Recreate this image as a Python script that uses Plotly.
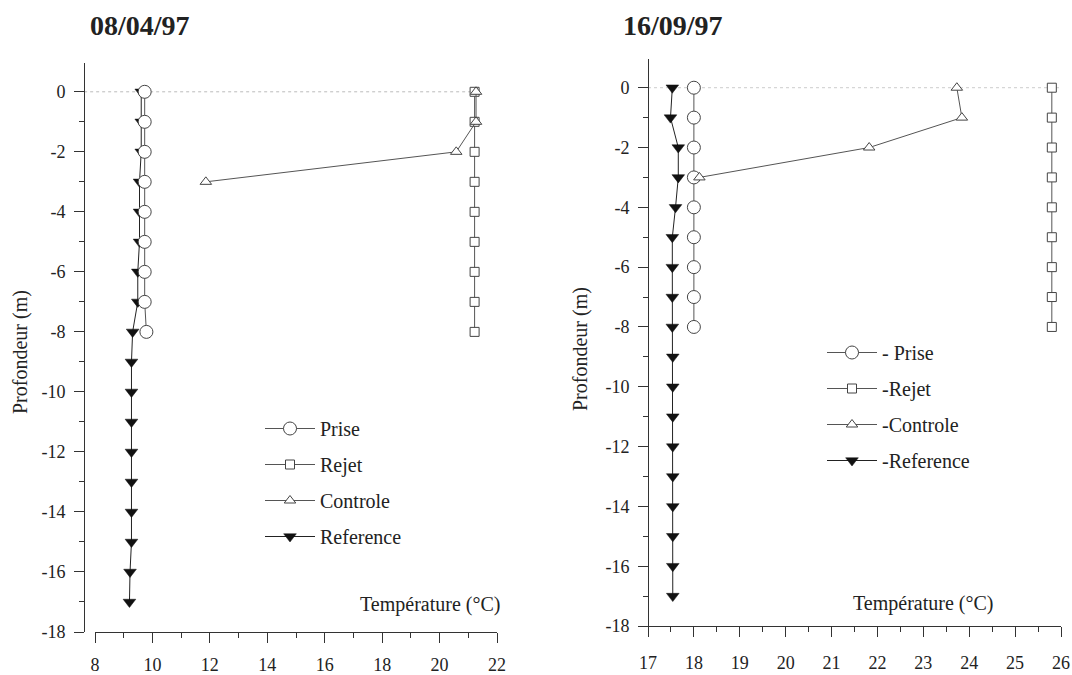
import plotly.graph_objects as go

# ---------------- data ----------------
depth_0_8 = [0, -1, -2, -3, -4, -5, -6, -7, -8]
depth_0_3 = [0, -1, -2, -3]
depth_0_17 = [0, -1, -2, -3, -4, -5, -6, -7, -8, -9, -10, -11, -12, -13, -14, -15, -16, -17]

# 08/04/97
apr_prise = [9.73, 9.73, 9.73, 9.73, 9.73, 9.73, 9.73, 9.73, 9.79]
apr_rejet = [21.22, 21.22, 21.22, 21.22, 21.22, 21.22, 21.22, 21.22, 21.22]
apr_controle = [21.27, 21.27, 20.58, 11.86]
apr_reference = [9.61, 9.61, 9.61, 9.55, 9.55, 9.55, 9.49, 9.49, 9.31,
                 9.27, 9.27, 9.27, 9.27, 9.27, 9.27, 9.27, 9.22, 9.20]

# 16/09/97
sep_prise = [18.0, 18.0, 18.0, 18.0, 18.0, 18.0, 18.0, 18.0, 18.0]
sep_rejet = [25.8, 25.8, 25.8, 25.8, 25.8, 25.8, 25.8, 25.8, 25.8]
sep_controle = [23.73, 23.84, 21.82, 18.12]
sep_reference = [17.53, 17.49, 17.66, 17.66, 17.6, 17.53, 17.53, 17.53, 17.53,
                 17.54, 17.54, 17.54, 17.54, 17.54, 17.54, 17.54, 17.54, 17.54]

names_left = ["Prise", "Rejet", "Controle", "Reference"]
names_right = ["- Prise", "-Rejet", "-Controle", "-Reference"]
titles = ["08/04/97", "16/09/97"]
x_title = "Température (°C)"
y_title = "Profondeur (m)"

y_tickvals = [0, -2, -4, -6, -8, -10, -12, -14, -16, -18]
y_ticktext = ["0", "-2", "-4", "-6", "-8", "-10", "-12", "-14", "-16", "-18"]
y_minor = [-1, -3, -5, -7, -9, -11, -13, -15, -17]

x1_tickvals = [8, 10, 12, 14, 16, 18, 20, 22]
x1_ticktext = ["8", "10", "12", "14", "16", "18", "20", "22"]
x1_minor = [9, 11, 13, 15, 17, 19, 21]

x2_tickvals = [17, 18, 19, 20, 21, 22, 23, 24, 25, 26]
x2_ticktext = ["17", "18", "19", "20", "21", "22", "23", "24", "25", "26"]
x2_minor = [17.5, 18.5, 19.5, 20.5, 21.5, 22.5, 23.5, 24.5, 25.5]

# ---------------- styling ----------------
W, H = 1072, 675
FONT = "Liberation Serif, Times New Roman, serif"
INK = "#222222"
AX = "#333333"
LINE = "#555555"
MK = "#444444"


def px_x(p):
    return p / W


def px_y(p):
    return 1 - p / H


fig = go.Figure()


def add_panel(xa, ya, legend, names, prise, rejet, controle, reference):
    specs = [
        (names[0], prise, depth_0_8, dict(symbol="circle", size=13, color="white",
                                          line=dict(color=MK, width=1)), LINE),
        (names[1], rejet, depth_0_8, dict(symbol="square", size=9, color="white",
                                          line=dict(color=MK, width=1)), LINE),
        (names[2], controle, depth_0_3, dict(symbol="triangle-up", size=10, color="white",
                                             line=dict(color=MK, width=1)), LINE),
        (names[3], reference, depth_0_17, dict(symbol="triangle-down", size=11, color="#111111",
                                               line=dict(color="#111111", width=0.5)), "#222222"),
    ]
    order = [3, 0, 1, 2]  # reference under the open symbols
    for i in order:
        name, xs, ys, mk, lc = specs[i]
        fig.add_trace(go.Scatter(
            x=xs, y=ys, name=name, mode="lines+markers",
            xaxis=xa, yaxis=ya, legend=legend, legendgroup=legend + str(i),
            legendrank=i + 1,
            line=dict(color=lc, width=1), marker=mk,
        ))


add_panel("x", "y", "legend", names_left, apr_prise, apr_rejet, apr_controle, apr_reference)
add_panel("x2", "y2", "legend2", names_right, sep_prise, sep_rejet, sep_controle, sep_reference)

tickfont = dict(family=FONT, size=18, color=INK)

common_x = dict(showline=True, linecolor=AX, linewidth=1, ticks="outside",
                ticklen=10, tickcolor=AX, tickwidth=1, showgrid=False,
                zeroline=False, tickfont=tickfont, tickmode="array",
                automargin=False, fixedrange=True)
common_y = dict(showline=True, linecolor=AX, linewidth=1, ticks="outside",
                ticklen=10, tickcolor=AX, tickwidth=1, showgrid=False,
                zeroline=False, tickfont=tickfont, tickmode="array",
                tickvals=y_tickvals, ticktext=y_ticktext, anchor="free",
                ticklabelstandoff=5, automargin=False, fixedrange=True,
                minor=dict(tickvals=y_minor, ticks="outside", ticklen=5,
                           tickcolor=AX, showgrid=False))

legend_common = dict(xanchor="left", yanchor="top", bgcolor="rgba(0,0,0,0)", borderwidth=0,
                     font=dict(family=FONT, size=20, color=INK),
                     tracegroupgap=7, itemwidth=50, traceorder="grouped")

fig.update_layout(
    width=W, height=H,
    margin=dict(l=0, r=0, t=0, b=0, pad=0),
    paper_bgcolor="white", plot_bgcolor="white",
    font=dict(family=FONT, color=INK),
    xaxis=dict(domain=[px_x(95), px_x(497)], range=[8, 22], anchor="y",
               tickvals=x1_tickvals, ticktext=x1_ticktext, ticklabelstandoff=6,
               minor=dict(tickvals=x1_minor, ticks="outside", ticklen=5,
                          tickcolor=AX, showgrid=False),
               **common_x),
    yaxis=dict(domain=[px_y(632), px_y(63)], range=[-18, 0.96],
               position=px_x(84), **common_y),
    xaxis2=dict(domain=[px_x(648), px_x(1061)], range=[17, 26], anchor="y2",
                tickvals=x2_tickvals, ticktext=x2_ticktext, ticklabelstandoff=10,
                minor=dict(tickvals=x2_minor, ticks="outside", ticklen=5,
                           tickcolor=AX, showgrid=False),
                **common_x),
    yaxis2=dict(domain=[px_y(626), px_y(59)], range=[-18, 0.96],
                position=px_x(648), **common_y),
    legend=dict(x=px_x(260), y=px_y(409), **legend_common),
    legend2=dict(x=px_x(822), y=px_y(333), **legend_common),
    showlegend=True,
)

# dotted zero lines
fig.add_shape(type="line", xref="x domain", yref="y", x0=-0.027, x1=0.945, y0=0, y1=0,
              line=dict(color="#bbbbbb", width=1, dash="dot"), layer="below")
fig.add_shape(type="line", xref="x2 domain", yref="y2", x0=0, x1=1, y0=0, y1=0,
              line=dict(color="#cccccc", width=1, dash="dot"), layer="below")

# panel titles
fig.add_annotation(text="<b>" + titles[0] + "</b>", xref="paper", yref="paper",
                   x=px_x(88), y=px_y(26), xanchor="left", yanchor="middle",
                   showarrow=False, font=dict(family=FONT, size=28, color=INK))
fig.add_annotation(text="<b>" + titles[1] + "</b>", xref="paper", yref="paper",
                   x=px_x(621), y=px_y(26), xanchor="left", yanchor="middle",
                   showarrow=False, font=dict(family=FONT, size=28, color=INK))

# axis titles
for xc, yc in [(21, 352), (580, 349)]:
    fig.add_annotation(text=y_title, xref="paper", yref="paper", x=px_x(xc), y=px_y(yc),
                       xanchor="center", yanchor="middle", textangle=-90, showarrow=False,
                       font=dict(family=FONT, size=20, color=INK))
for xc, yc in [(430, 604), (923, 603)]:
    fig.add_annotation(text=x_title, xref="paper", yref="paper", x=px_x(xc), y=px_y(yc),
                       xanchor="center", yanchor="middle", showarrow=False,
                       font=dict(family=FONT, size=20, color=INK))

fig.write_html("out.html")
